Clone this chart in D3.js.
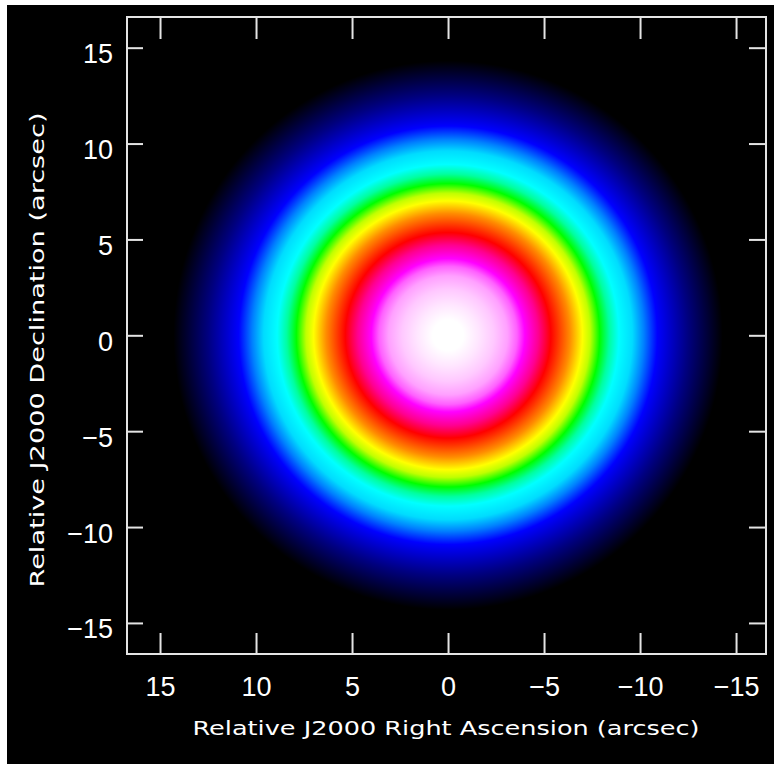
<!DOCTYPE html>
<html>
<head>
<meta charset="utf-8">
<script src="https://cdn.jsdelivr.net/npm/d3@7/dist/d3.min.js"></script>
<style>
  body { margin: 0; background: #fff; }
  svg { display: block; }
</style>
</head>
<body>
<div id="chart"></div>
<script>
// Canvas size
const width = 774;
const height = 764;

// Axis data (arcsec)
const raExtent = [16.72, -16.56];
const decExtent = [-16.62, 16.6];
const tickValues = [-15, -10, -5, 0, 5, 10, 15];

// Radial colour profile of the source
const profileRadius = [0, 0.8, 1.6, 2.4, 3.1, 3.6, 4.0, 4.7, 5.35, 5.7, 6.35, 7.0, 7.4, 7.9, 8.4, 8.9, 9.6, 10.2, 10.9, 12.5, 14.3];
const profileColor = ["#ffffff", "#ffffff", "#ffe6ff", "#ffc8ff", "#ffa0ff", "#ff60ff", "#ff00ff", "#ff0090", "#ff0000", "#ff3000",
  "#ff8c00", "#ffff00", "#c0ff00", "#00ff00", "#00ffa0", "#00ffff", "#00dcff", "#0080ff", "#0000ff", "#000080", "#000000"];

const xTitle = "Relative J2000 Right Ascension (arcsec)";
const yTitle = "Relative J2000 Declination (arcsec)";

// Plot frame
const plot = { left: 127, right: 766, top: 17, bottom: 654 };

const x = d3.scaleLinear().domain(raExtent).range([plot.left, plot.right]);
const y = d3.scaleLinear().domain(decExtent).range([plot.bottom, plot.top]);

const svg = d3.select("#chart").append("svg")
    .attr("width", width)
    .attr("height", height);

// Black panel
svg.append("rect")
    .attr("x", 7).attr("y", 5)
    .attr("width", width - 7).attr("height", height - 5)
    .attr("fill", "#000");

// Radial gradient for the source image
const rMax = d3.max(profileRadius);
const rPx = x(0) - x(rMax);
const rOffset = d3.scaleLinear().domain([0, rMax]).range([0, 1]);

const defs = svg.append("defs");
const grad = defs.append("radialGradient")
    .attr("id", "source")
    .attr("gradientUnits", "userSpaceOnUse")
    .attr("cx", x(0)).attr("cy", y(0))
    .attr("fx", x(0)).attr("fy", y(0))
    .attr("r", rPx);

grad.selectAll("stop")
    .data(profileRadius)
    .enter().append("stop")
    .attr("offset", d => rOffset(d))
    .attr("stop-color", (d, i) => profileColor[i]);

defs.append("clipPath").attr("id", "clip")
    .append("rect")
    .attr("x", plot.left).attr("y", plot.top)
    .attr("width", plot.right - plot.left)
    .attr("height", plot.bottom - plot.top);

svg.append("rect")
    .attr("clip-path", "url(#clip)")
    .attr("x", plot.left).attr("y", plot.top)
    .attr("width", plot.right - plot.left)
    .attr("height", plot.bottom - plot.top)
    .attr("fill", "url(#source)");

// Axes, ticks drawn inward
const lineColor = "#e4e4e4";
const tickFont = "'Liberation Sans', Arial, sans-serif";

function styleAxis(g) {
    g.select(".domain").remove();
    g.selectAll(".tick line").attr("stroke", lineColor).attr("stroke-width", 2);
    g.selectAll(".tick text")
        .attr("fill", "#fff")
        .style("font-family", tickFont)
        .style("font-size", "27px");
}

svg.append("g")
    .attr("transform", `translate(0,${plot.bottom})`)
    .call(d3.axisBottom(x).tickValues(tickValues).tickSizeInner(-21).tickSizeOuter(0).tickPadding(23))
    .call(styleAxis);

svg.append("g")
    .attr("transform", `translate(0,${plot.top})`)
    .call(d3.axisTop(x).tickValues(tickValues).tickSizeInner(-22).tickSizeOuter(0).tickFormat(""))
    .call(styleAxis);

svg.append("g")
    .attr("transform", `translate(${plot.left},0)`)
    .call(d3.axisLeft(y).tickValues(tickValues).tickSizeInner(-16).tickSizeOuter(0).tickPadding(14))
    .call(styleAxis)
    .selectAll(".tick text").attr("dy", 15);

svg.append("g")
    .attr("transform", `translate(${plot.right},0)`)
    .call(d3.axisRight(y).tickValues(tickValues).tickSizeInner(-17).tickSizeOuter(0).tickFormat(""))
    .call(styleAxis);

// Frame
svg.append("rect")
    .attr("x", plot.left).attr("y", plot.top)
    .attr("width", plot.right - plot.left)
    .attr("height", plot.bottom - plot.top)
    .attr("fill", "none")
    .attr("stroke", lineColor)
    .attr("stroke-width", 2);

// Axis titles
svg.append("text")
    .attr("x", 446).attr("y", 735)
    .attr("text-anchor", "middle")
    .attr("fill", "#fff")
    .attr("textLength", 507)
    .attr("lengthAdjust", "spacingAndGlyphs")
    .style("font-family", "'DejaVu Sans', sans-serif")
    .style("font-size", "20px")
    .text(xTitle);

svg.append("text")
    .attr("transform", "translate(44,350) rotate(-90)")
    .attr("text-anchor", "middle")
    .attr("fill", "#fff")
    .attr("textLength", 475)
    .attr("lengthAdjust", "spacingAndGlyphs")
    .style("font-family", "'DejaVu Sans', sans-serif")
    .style("font-size", "20px")
    .text(yTitle);
</script>
</body>
</html>
